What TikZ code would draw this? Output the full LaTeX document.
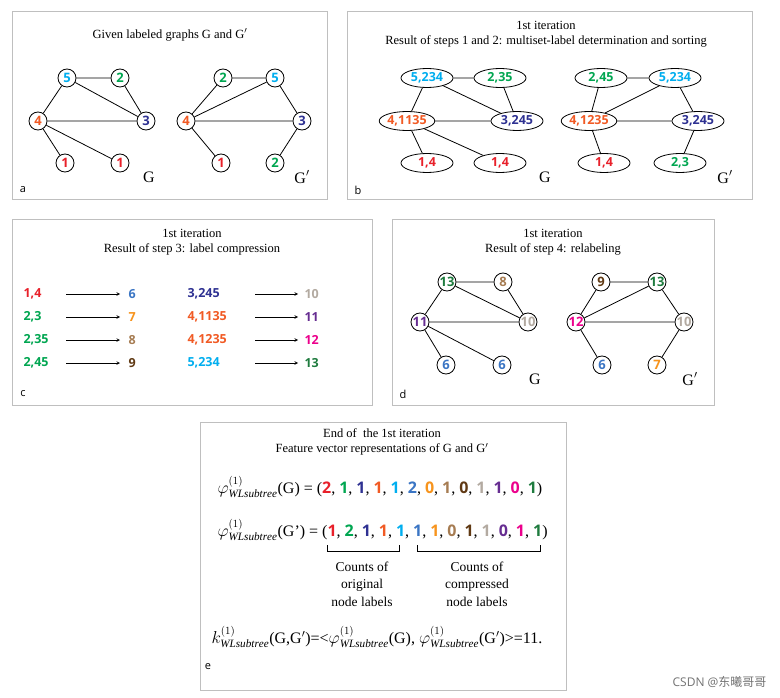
\documentclass[tikz,border=0pt]{standalone}
\usepackage{fontspec}
\setmainfont{Liberation Serif}
\setsansfont{Open Sans}
\newfontfamily\cjk{Noto Sans CJK SC}
\usetikzlibrary{shapes.geometric}
\definecolor{cR}{HTML}{E8202A}
\definecolor{cG}{HTML}{00A651}
\definecolor{cN}{HTML}{2E3192}
\definecolor{cO}{HTML}{F15A24}
\definecolor{cL}{HTML}{00AEEF}
\definecolor{c6}{HTML}{3A75C4}
\definecolor{c7}{HTML}{F7941D}
\definecolor{c8}{HTML}{A67C52}
\definecolor{c9}{HTML}{603913}
\definecolor{c10}{HTML}{B3AAA1}
\definecolor{c11}{HTML}{662D91}
\definecolor{c12}{HTML}{EC008C}
\definecolor{c13}{HTML}{1E7B3E}
\newcommand\vc[2]{\textcolor{#1}{\sffamily\bfseries #2}}
\newcommand\crow[9]{%
  \node[cl,text=#3] (cl#1) at (20,#2) {#4};
  \node[cl,text=#5] (cr#1) at (125,#2) {#6};
  \coordinate (cs#1) at (66,#2); \coordinate (ce#1) at (120,#2);
  \draw[ar] (cs#1)--(ce#1);
  \node[cl,text=#7] (cm#1) at (184,#2) {#8};
  \node[cl,text=c#9] (cn#1) at (301,#2) {#9};
  \coordinate (ds#1) at (255,#2); \coordinate (de#1) at (298,#2);
  \draw[ar] (ds#1)--(de#1);}
\begin{document}
\begin{tikzpicture}[x=1pt,y=-1pt,
  panel/.style={draw=black!25,line width=1pt,fill=white},
  v/.style={circle,draw,line width=0.8pt,fill=white,minimum size=18pt,inner sep=0pt,font=\sffamily\bfseries\fontsize{13}{13}\selectfont},
  ev/.style={ellipse,draw,line width=0.8pt,fill=white,minimum width=52pt,minimum height=19pt,inner sep=0pt,font=\sffamily\bfseries\fontsize{12.5}{12.5}\selectfont},
  e/.style={line width=0.8pt},
  ttl/.style={font=\fontsize{12.5}{15}\selectfont,align=center},
  gl/.style={font=\fontsize{16}{16}\selectfont},
  let/.style={font=\sffamily\fontsize{11}{11}\selectfont},
  cl/.style={font=\sffamily\bfseries\fontsize{12.5}{12.5}\selectfont,anchor=west},
  ar/.style={-stealth,line width=0.6pt}]
\useasboundingbox (0,0) rectangle (780,698);
\fill[white] (0,0) rectangle (780,698);
% panel a
\draw[panel] (12,12) rectangle (327,200);
\node[ttl] (ta) at (170,35) {Given labeled graphs G and G$'$};
\node[v,text=cL] (a5) at (67,78) {5};
\node[v,text=cG] (a2) at (120,78) {2};
\node[v,text=cO] (a4) at (38,121) {4};
\node[v,text=cN] (a3) at (146,121) {3};
\node[v,text=cR] (a1) at (65,163) {1};
\node[v,text=cR] (a1b) at (120,163) {1};
\draw[e] (a5)--(a2) (a5)--(a4) (a5)--(a3) (a2)--(a3) (a4)--(a3) (a4)--(a1) (a4)--(a1b);
\node[gl] (ga) at (149,177) {G};
\node[v,text=cG] (b2) at (223,78) {2};
\node[v,text=cL] (b5) at (275,78) {5};
\node[v,text=cO] (b4) at (186,121) {4};
\node[v,text=cN] (b3) at (302,121) {3};
\node[v,text=cR] (b1) at (221,163) {1};
\node[v,text=cG] (b2b) at (275,163) {2};
\draw[e] (b2)--(b5) (b2)--(b4) (b5)--(b4) (b5)--(b3) (b4)--(b3) (b4)--(b1) (b3)--(b2b);
\node[gl] (gb) at (302,177) {G$'$};
\node[let] (la) at (23,190) {a};
% panel b
\draw[panel] (347,12) rectangle (752,200);
\node[ttl] (tb) at (546,34) {1st iteration\\Result of steps 1 and 2: multiset-label determination and sorting};
\node[ev,text=cL] (c5) at (427,78) {5,234};
\node[ev,text=cG] (c2) at (500,78) {2,35};
\node[ev,text=cO] (c4) at (407,121) {4,1135};
\node[ev,text=cN] (c3) at (517,121) {3,245};
\node[ev,text=cR] (c1) at (427,163) {1,4};
\node[ev,text=cR] (c1b) at (500,163) {1,4};
\draw[e] (c5)--(c2) (c5)--(c4) (c5)--(c3) (c2)--(c3) (c4)--(c3) (c4)--(c1) (c4)--(c1b);
\node[gl] (gc) at (545,177) {G};
\node[ev,text=cG] (d2) at (601,78) {2,45};
\node[ev,text=cL] (d5) at (675,78) {5,234};
\node[ev,text=cO] (d4) at (589,121) {4,1235};
\node[ev,text=cN] (d3) at (698,121) {3,245};
\node[ev,text=cR] (d1) at (604,163) {1,4};
\node[ev,text=cG] (d2b) at (680,163) {2,3};
\draw[e] (d2)--(d5) (d2)--(d4) (d5)--(d4) (d5)--(d3) (d4)--(d3) (d4)--(d1) (d3)--(d2b);
\node[gl] (gd) at (725,177) {G$'$};
\node[let] (lb) at (358,190) {b};
% panel c
\draw[panel] (12,220) rectangle (372,405);
\node[ttl] (tc) at (192,242) {1st iteration\\Result of step 3: label compression};
\crow{1}{294}{cR}{1,4}{c6}{6}{cN}{3,245}{10}
\crow{2}{317}{cG}{2,3}{c7}{7}{cO}{4,1135}{11}
\crow{3}{340}{cG}{2,35}{c8}{8}{cO}{4,1235}{12}
\crow{4}{363}{cG}{2,45}{c9}{9}{cL}{5,234}{13}
\node[let] (lc) at (23,394) {c};
% panel d
\draw[panel] (392,220) rectangle (714,405);
\node[ttl] (td) at (553,242) {1st iteration\\Result of step 4: relabeling};
\node[v,text=c13] (e13) at (447,282) {13};
\node[v,text=c8] (e8) at (503,282) {8};
\node[v,text=c11] (e11) at (420,322) {11};
\node[v,text=c10] (e10) at (528,322) {10};
\node[v,text=c6] (e6) at (446,365) {6};
\node[v,text=c6] (e6b) at (502,365) {6};
\draw[e] (e13)--(e8) (e13)--(e11) (e13)--(e10) (e8)--(e10) (e11)--(e10) (e11)--(e6) (e11)--(e6b);
\node[gl] (ge) at (535,379) {G};
\node[v,text=c9] (f9) at (601,282) {9};
\node[v,text=c13] (f13) at (657,282) {13};
\node[v,text=c12] (f12) at (576,322) {12};
\node[v,text=c10] (f10) at (684,322) {10};
\node[v,text=c6] (f6) at (602,365) {6};
\node[v,text=c7] (f7) at (657,365) {7};
\draw[e] (f9)--(f13) (f9)--(f12) (f13)--(f12) (f13)--(f10) (f12)--(f10) (f12)--(f6) (f10)--(f7);
\node[gl] (gf) at (690,379) {G$'$};
\node[let] (ld) at (403,394) {d};
% panel e
\draw[panel] (200,422) rectangle (566,690);
\node[ttl] (te) at (382,442) {End of \ the 1st iteration\\Feature vector representations of G and G$'$};
\node[font=\fontsize{16}{16}\selectfont,anchor=west] (pg) at (214,487) {$\varphi^{(1)}_{\mathit{WLsubtree}}$(G) = (\vc{cR}{2}, \vc{cG}{1}, \vc{cN}{1}, \vc{cO}{1}, \vc{cL}{1}, \vc{c6}{2}, \vc{c7}{0}, \vc{c8}{1}, \vc{c9}{0}, \vc{c10}{1}, \vc{c11}{1}, \vc{c12}{0}, \vc{c13}{1})};
\node[font=\fontsize{16}{16}\selectfont,anchor=west] (ph) at (214,530) {$\varphi^{(1)}_{\mathit{WLsubtree}}$(G’) = (\vc{cR}{1}, \vc{cG}{2}, \vc{cN}{1}, \vc{cO}{1}, \vc{cL}{1}, \vc{c6}{1}, \vc{c7}{1}, \vc{c8}{0}, \vc{c9}{1}, \vc{c10}{1}, \vc{c11}{0}, \vc{c12}{1}, \vc{c13}{1})};
\coordinate (b1a) at (327,545); \coordinate (b1b) at (399,545);
\coordinate (b2a) at (417,545); \coordinate (b2b) at (540,545);
\draw[line width=0.8pt] (b1a) -- ++(0,6) -| (b1b);
\draw[line width=0.8pt] (b2a) -- ++(0,6) -| (b2b);
\node[ttl,font=\fontsize{13.5}{17.5}\selectfont] (co) at (362,584) {Counts of\\original\\node labels};
\node[ttl,font=\fontsize{13.5}{17.5}\selectfont] (cc) at (477,584) {Counts of\\compressed\\node labels};
\node[font=\fontsize{16}{16}\selectfont,anchor=west] (kk) at (208,637) {$k^{(1)}_{\mathit{WLsubtree}}$(G,G$'$)=<$\varphi^{(1)}_{\mathit{WLsubtree}}$(G), $\varphi^{(1)}_{\mathit{WLsubtree}}$(G$'$)>=11.};
\node[let] (le) at (208,667) {e};
\node[font=\fontsize{12}{12}\selectfont,text=black!55,anchor=east] (wm) at (770,682) {\sffamily CSDN @{\cjk 东曦哥哥}};
\end{tikzpicture}
\end{document}
